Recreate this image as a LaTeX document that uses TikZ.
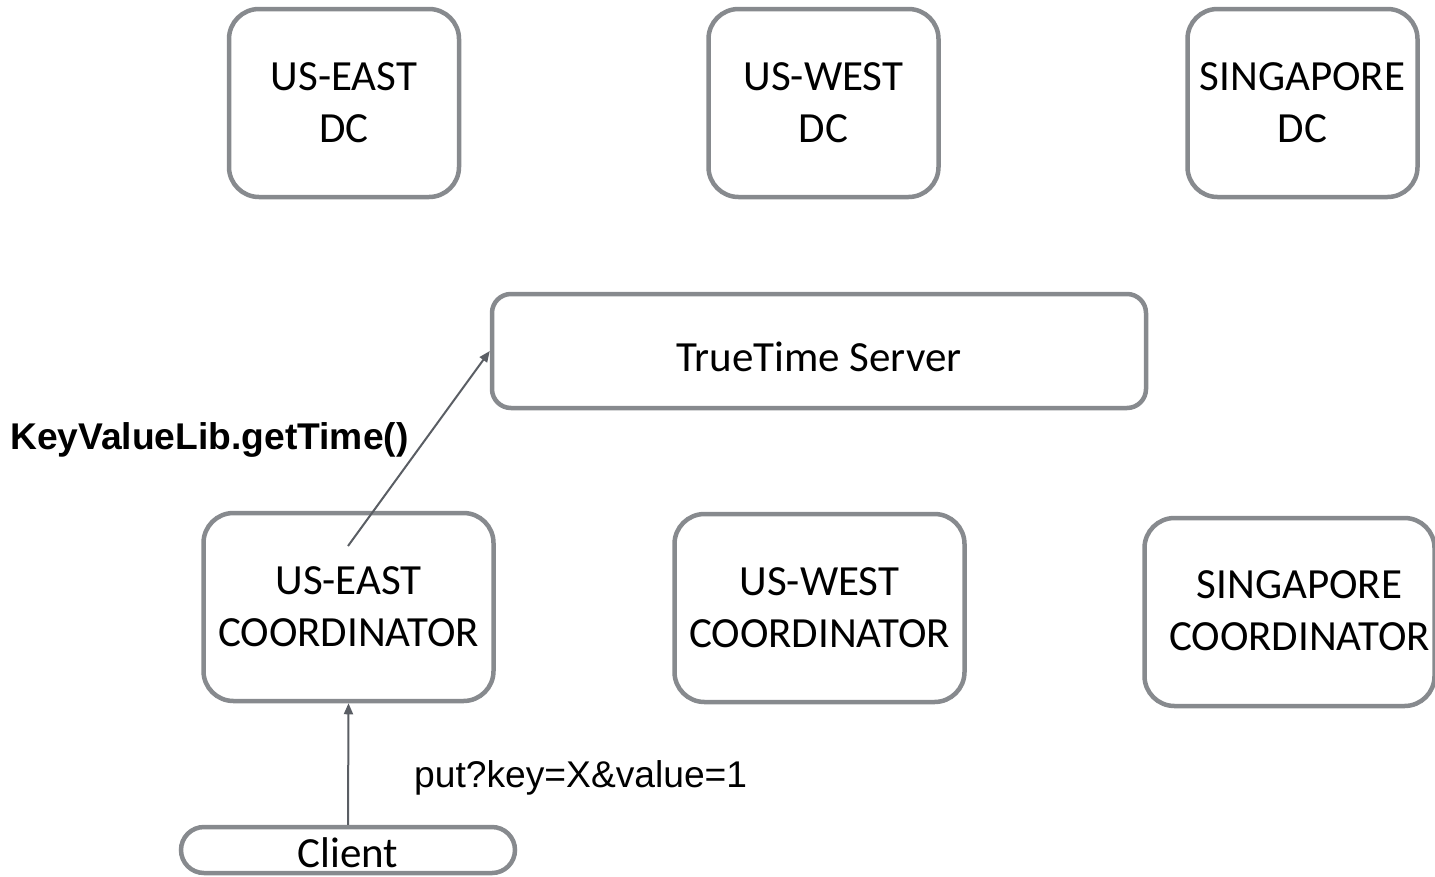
\documentclass[tikz,border=0pt]{standalone}
\usepackage{fontspec}
\setmainfont{Carlito}
\newfontfamily\arialfont{Liberation Sans}
\usetikzlibrary{arrows.meta}
\definecolor{boxgray}{RGB}{135,138,142}
\definecolor{arrowgray}{RGB}{90,94,100}
\tikzset{
  boxstyle/.style={draw=boxgray, line width=4.5pt, rounded corners=30pt,
    align=center, inner sep=0pt, font=\fontsize{43}{52}\selectfont},
  dcbox/.style={boxstyle, minimum width=230pt, minimum height=188pt},
  coordbox/.style={boxstyle, minimum width=290pt, minimum height=188pt},
  serverbox/.style={boxstyle, rounded corners=19pt, minimum width=654pt, minimum height=114pt,
    text height=40pt, text depth=0pt},
  clientbox/.style={boxstyle, rounded corners=23pt, minimum width=334pt, minimum height=46pt,
    text height=35pt, text depth=0pt},
  arr/.style={draw=arrowgray, line width=2pt, -{Triangle[length=11pt,width=9pt]}},
  lbl/.style={font=\arialfont\fontsize{37.2}{44}\selectfont, inner sep=0pt, anchor=west}
}
\begin{document}
\begin{tikzpicture}[x=1pt,y=-1pt]
  \useasboundingbox (0,0) rectangle (1435,876);
  % data centres
  \node[dcbox] (dce) at (344,103) {US-EAST\\DC};
  \node[dcbox] (dcw) at (823.5,103) {US-WEST\\DC};
  \node[dcbox] (dcs) at (1302.5,103) {SINGAPORE\\DC};
  % time server
  \node[serverbox] (tt) at (819,351) {TrueTime Server};
  % coordinators
  \node[coordbox] (ue) at (348.5,607) {US-EAST\\COORDINATOR};
  \node[coordbox] (uw) at (819.5,608) {US-WEST\\COORDINATOR};
  \node[coordbox] (sg) at (1289.5,612) {\raisebox{3pt}{\hspace*{20pt}SINGAPORE}\\\raisebox{3pt}{\hspace*{20pt}COORDINATOR}};
  % client
  \node[clientbox] (cl) at (348,850) {Client};
  % request flow
  \coordinate (gt) at (348,546);
  \draw[arr] (cl.north) -- (ue.south);
  \draw[arr] (gt) -- (tt.west);
  \node[lbl, font=\arialfont\bfseries\fontsize{37.2}{44}\selectfont] (gtl) at (10,440) {KeyValueLib.getTime()};
  \node[lbl] (putl) at (414,778) {put?key=X\&value=1};
\end{tikzpicture}
\end{document}
